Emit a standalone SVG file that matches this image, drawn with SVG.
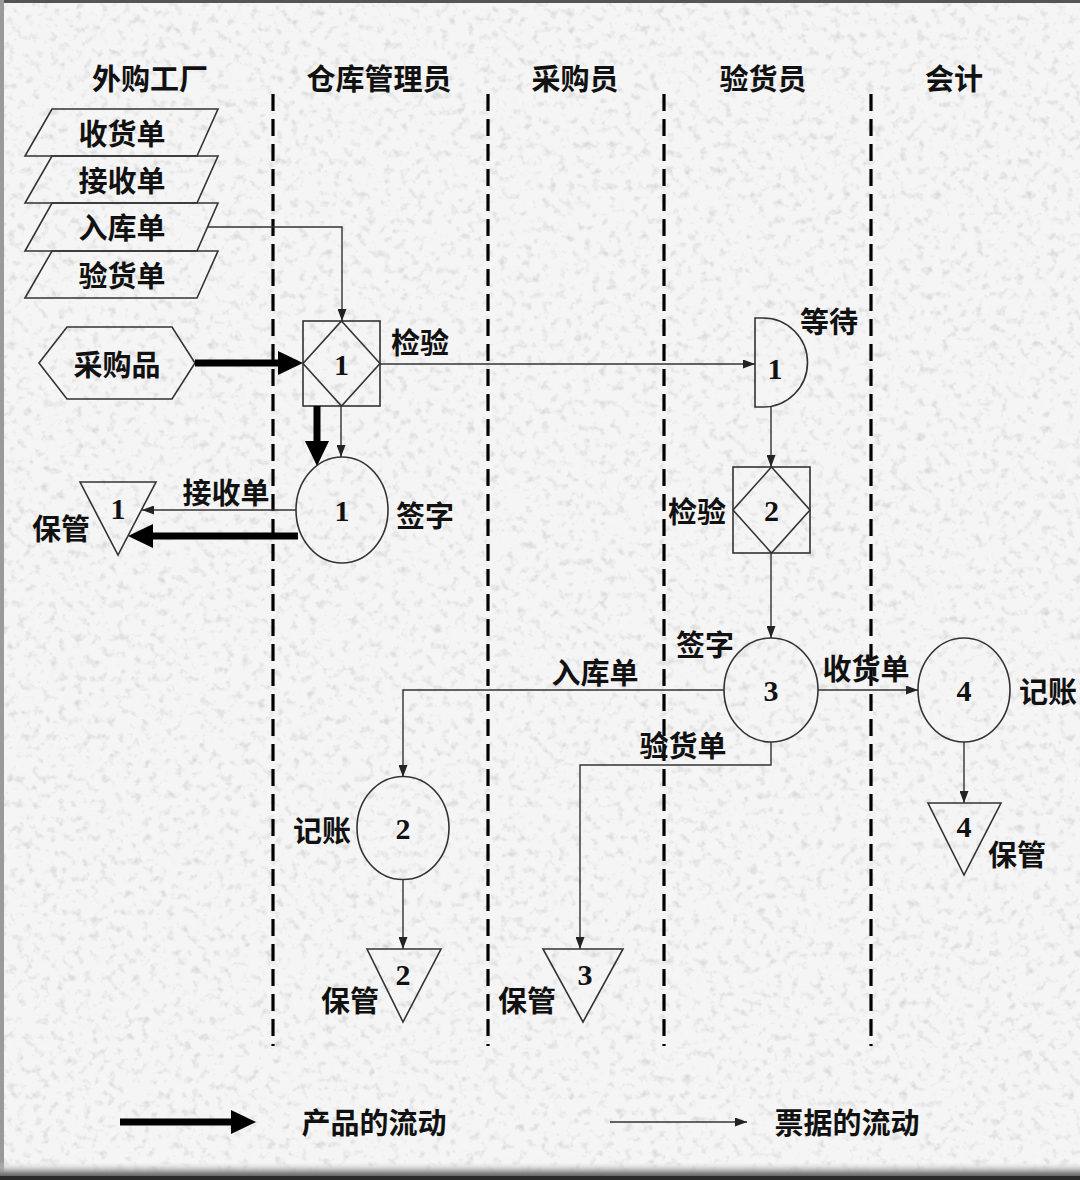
<svg xmlns="http://www.w3.org/2000/svg" width="1080" height="1180" viewBox="0 0 1080 1180">
<defs>
<filter id="granite" x="0" y="0" width="100%" height="100%">
<feTurbulence type="fractalNoise" baseFrequency="0.12" numOctaves="3" seed="7" result="n"/>
<feColorMatrix in="n" type="matrix" values="0 0 0 0 0.66  0 0 0 0 0.66  0 0 0 0 0.66  -2.4 0 0 0 1.12"/>
</filter>
<linearGradient id="bottomEdge" x1="0" y1="0" x2="0" y2="1">
<stop offset="0" stop-color="#e8e8e8" stop-opacity="0"/>
<stop offset="0.6" stop-color="#8a8a8a"/>
<stop offset="1" stop-color="#3a3a3a"/>
</linearGradient>
<marker id="thin" markerUnits="userSpaceOnUse" markerWidth="12" markerHeight="9" refX="12" refY="4.5" orient="auto">
<path d="M0,0 L12,4.5 L0,9 z" fill="#222"/>
</marker>
<marker id="thick" markerUnits="userSpaceOnUse" markerWidth="25" markerHeight="24" refX="5" refY="12" orient="auto">
<path d="M0,0 L25,12 L0,24 z" fill="#000"/>
</marker>
<style>
.cjk{font-family:'Noto Sans CJK SC','Noto Sans CJK TC',sans-serif;font-size:29px;font-weight:bold;fill:#111;text-anchor:middle;dominant-baseline:central}
.num{font-family:'Liberation Serif',serif;font-size:30px;font-weight:bold;fill:#111;text-anchor:middle;dominant-baseline:central}
.shape{fill:none;stroke:#333;stroke-width:1.6}
.lane{stroke:#000;stroke-width:3.2;stroke-dasharray:17 8;fill:none}
.doc{fill:none;stroke:#333;stroke-width:1.4;marker-end:url(#thin)}
.prod{fill:none;stroke:#000;stroke-width:7;marker-end:url(#thick)}
</style>
</defs>

<g id="background">
<rect x="0" y="0" width="1080" height="1180" fill="#f5f5f5"/>
<rect x="0" y="0" width="1080" height="1180" filter="url(#granite)"/>
<rect x="0" y="0" width="1080" height="3" fill="#555"/>
<rect x="0" y="0" width="4" height="1180" fill="#9a9a9a"/>
<rect x="0" y="1162" width="1080" height="18" fill="url(#bottomEdge)"/>
<rect x="0" y="1176" width="1080" height="4" fill="#2a2a2a"/>
</g>

<g id="lanes">
<text class="cjk" x="150" y="77">外购工厂</text>
<text class="cjk" x="379" y="77">仓库管理员</text>
<text class="cjk" x="575" y="77">采购员</text>
<text class="cjk" x="763" y="77">验货员</text>
<text class="cjk" x="954" y="77">会计</text>
<line class="lane" x1="273" y1="94" x2="273" y2="1046"/>
<line class="lane" x1="488" y1="94" x2="488" y2="1046"/>
<line class="lane" x1="664" y1="94" x2="664" y2="1046"/>
<line class="lane" x1="871" y1="94" x2="871" y2="1046"/>
</g>

<g id="documents">
<polygon class="shape" points="52,109 218,109 197,156 25,156"/>
<text class="cjk" x="122" y="132">收货单</text>
<polygon class="shape" points="52,156 218,156 197,203 25,203"/>
<text class="cjk" x="122" y="179">接收单</text>
<polygon class="shape" points="52,203 218,203 197,251 25,251"/>
<text class="cjk" x="122" y="226">入库单</text>
<polygon class="shape" points="52,251 218,251 197,298 25,298"/>
<text class="cjk" x="122" y="274">验货单</text>
</g>

<g id="purchase">
<polygon class="shape" points="39,363 67,327 172,327 195,363 172,399 67,399"/>
<text class="cjk" x="117" y="363">采购品</text>
</g>

<g id="inspect1">
<rect class="shape" x="303" y="321" width="77" height="85"/>
<polygon class="shape" points="341.5,321 380,363.5 341.5,406 303,363.5"/>
<text class="num" x="341.5" y="364">1</text>
</g>

<g id="sign1">
<ellipse class="shape" cx="342" cy="510" rx="46" ry="53"/>
<text class="num" x="342" y="510">1</text>
<text class="cjk" x="425" y="514">签字</text>
</g>

<g id="store1">
<polygon class="shape" points="80,482 156,482 118,555"/>
<text class="num" x="118" y="508">1</text>
<text class="cjk" x="61" y="527">保管</text>
</g>

<g id="wait1">
<path class="shape" d="M755,318 H763 A44.5,44.5 0 0 1 763,407 H755 Z"/>
<text class="num" x="775" y="368">1</text>
<text class="cjk" x="829" y="320">等待</text>
</g>

<g id="inspect2">
<rect class="shape" x="733" y="467" width="77" height="86"/>
<polygon class="shape" points="771.5,467 810,510 771.5,553 733,510"/>
<text class="num" x="771.5" y="510">2</text>
<text class="cjk" x="697" y="510">检验</text>
</g>

<g id="sign3">
<ellipse class="shape" cx="771" cy="690" rx="47" ry="52"/>
<text class="num" x="771" y="690">3</text>
<text class="cjk" x="705" y="643">签字</text>
</g>

<g id="post2">
<ellipse class="shape" cx="403" cy="828" rx="46" ry="51.5"/>
<text class="num" x="403" y="828">2</text>
<text class="cjk" x="322" y="829">记账</text>
</g>

<g id="store2">
<polygon class="shape" points="367,949 441,949 403,1022"/>
<text class="num" x="403" y="974">2</text>
<text class="cjk" x="350" y="999">保管</text>
</g>

<g id="store3">
<polygon class="shape" points="543,949 623,949 583,1022"/>
<text class="num" x="585" y="974">3</text>
<text class="cjk" x="527" y="999">保管</text>
</g>

<g id="post4">
<ellipse class="shape" cx="964" cy="690" rx="46" ry="52"/>
<text class="num" x="964" y="690">4</text>
<text class="cjk" x="1048" y="690">记账</text>
</g>

<g id="store4">
<polygon class="shape" points="928,803 1001,803 964,875"/>
<text class="num" x="964" y="826">4</text>
<text class="cjk" x="1017" y="853">保管</text>
</g>

<g id="connectors">
<path class="doc" d="M208,227 H342 V321"/>
<path class="prod" d="M195,363 H283"/>
<path class="doc" d="M380,364 H755"/>
<text class="cjk" x="420" y="341">检验</text>
<path class="prod" d="M317,406 V446"/>
<path class="doc" d="M341,406 V457"/>
<path class="doc" d="M296,510 H142"/>
<text class="cjk" x="226" y="491">接收单</text>
<path class="prod" d="M298,536 H148"/>
<path class="doc" d="M771,407 V467"/>
<path class="doc" d="M771,553 V638"/>
<path class="doc" d="M724,690 H403 V777"/>
<text class="cjk" x="595" y="671">入库单</text>
<path class="doc" d="M771,742 V765 H580 V949"/>
<text class="cjk" x="683" y="744">验货单</text>
<path class="doc" d="M403,880 V949"/>
<path class="doc" d="M818,690 H918"/>
<text class="cjk" x="866" y="667">收货单</text>
<path class="doc" d="M964,742 V803"/>
</g>

<g id="legend">
<path class="prod" d="M120,1122 H236"/>
<text class="cjk" x="374" y="1121">产品的流动</text>
<path class="doc" d="M610,1122 H747"/>
<text class="cjk" x="847" y="1121">票据的流动</text>
</g>
</svg>
